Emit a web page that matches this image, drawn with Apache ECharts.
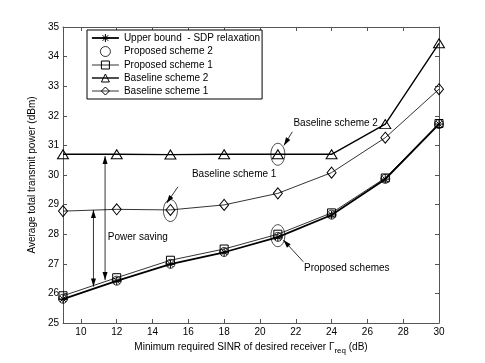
<!DOCTYPE html>
<html>
<head>
<meta charset="utf-8">
<script src="https://cdn.jsdelivr.net/npm/echarts@6/dist/echarts.min.js"></script>
<style>
  html, body { margin: 0; padding: 0; background: #fff; }
  #chart { width: 485px; height: 363px; }
</style>
</head>
<body>
<div id="chart"></div>
<script>
// x values (dB)
const sinr = [9, 12, 15, 18, 21, 24, 27, 30];
const xTicks = [10, 12, 14, 16, 18, 20, 22, 24, 26, 28, 30];

// average total transmit power (dBm)
const upperBound = [25.81, 26.42, 26.99, 27.39, 27.90, 28.65, 29.86, 31.72];
const proposed2 = [25.82, 26.43, 27.00, 27.40, 27.91, 28.66, 29.87, 31.72];
const proposed1 = [25.92, 26.53, 27.12, 27.50, 28.00, 28.72, 29.90, 31.74];
const baseline2 = [30.70, 30.70, 30.69, 30.70, 30.70, 30.70, 31.72, 34.45];
const baseline1 = [28.78, 28.84, 28.82, 28.99, 29.38, 30.08, 31.26, 32.90];

const FONT = 'Liberation Sans, Arial, Helvetica, sans-serif';
const asterisk = 'path://M5,0L5,10M0,5L10,5M1.5,1.5L8.5,8.5M8.5,1.5L1.5,8.5';

function pairs(ys) {
  return sinr.map((x, i) => [x, ys[i]]);
}

function lineSeries(name, ys, symbol, size, width) {
  return {
    name: name,
    type: 'line',
    data: pairs(ys),
    symbol: symbol,
    symbolSize: size,
    showAllSymbol: true,
    lineStyle: { color: '#000', width: width },
    itemStyle: { color: 'transparent', borderColor: '#000', borderWidth: 1 },
    emphasis: { disabled: true },
    animation: false
  };
}

const chart = echarts.init(document.getElementById('chart'));

const axisLine = { show: true, onZero: false, lineStyle: { color: '#555', width: 1 } };

chart.setOption({
  backgroundColor: '#fff',
  textStyle: { fontFamily: FONT },
  grid: { left: 63, right: 46, top: 27, bottom: 40 },
  legend: {
    orient: 'vertical',
    left: 87,
    top: 30,
    padding: [3, 2, 3, 4],
    itemGap: 3,
    itemWidth: 27,
    itemHeight: 10,
    borderColor: '#000',
    borderWidth: 1,
    backgroundColor: '#fff',
    itemStyle: { borderWidth: 1 },
    lineStyle: { width: 'inherit' },
    textStyle: { fontSize: 10, color: '#000', fontFamily: FONT },
    data: ['Upper bound  - SDP relaxation', 'Proposed scheme 2', 'Proposed scheme 1',
           'Baseline scheme 2', 'Baseline scheme 1']
  },
  xAxis: [{
    type: 'value',
    min: 9, max: 30,
    position: 'bottom',
    axisLine: axisLine,
    axisTick: { inside: true, length: 4, customValues: xTicks, lineStyle: { color: '#555' } },
    axisLabel: { customValues: xTicks, fontSize: 10, color: '#000', margin: 4, fontFamily: FONT },
    splitLine: { show: false },
    name: '{a|Minimum required SINR of desired receiver Γ}{s|req}{a| (dB)}',
    nameLocation: 'middle',
    nameGap: 14,
    nameTextStyle: {
      rich: {
        a: { fontSize: 10, color: '#000', fontFamily: FONT },
        s: { fontSize: 8, color: '#000', fontFamily: FONT, padding: [8, 0, 0, 0] }
      }
    }
  }, {
    type: 'value',
    min: 9, max: 30,
    position: 'top',
    axisLine: axisLine,
    axisTick: { inside: true, length: 4, customValues: xTicks, lineStyle: { color: '#555' } },
    axisLabel: { show: false },
    splitLine: { show: false }
  }],
  yAxis: [{
    type: 'value',
    min: 25, max: 35, interval: 1,
    position: 'left',
    axisLine: axisLine,
    axisTick: { inside: true, length: 4, lineStyle: { color: '#555' } },
    axisLabel: { fontSize: 10, color: '#000', margin: 4, fontFamily: FONT },
    splitLine: { show: false },
    name: 'Average total transmit power (dBm)',
    nameLocation: 'middle',
    nameGap: 24,
    nameTextStyle: { fontSize: 10, color: '#000', fontFamily: FONT }
  }, {
    type: 'value',
    min: 25, max: 35, interval: 1,
    position: 'right',
    axisLine: axisLine,
    axisTick: { inside: true, length: 4, lineStyle: { color: '#555' } },
    axisLabel: { show: false },
    splitLine: { show: false }
  }],
  series: [
    lineSeries('Baseline scheme 1', baseline1, 'diamond', [9, 11], 0.8),
    lineSeries('Baseline scheme 2', baseline2, 'triangle', [11, 9], 1.4),
    lineSeries('Proposed scheme 1', proposed1, 'rect', 8, 0.8),
    {
      name: 'Proposed scheme 2',
      type: 'scatter',
      data: pairs(proposed2),
      symbol: 'circle',
      symbolSize: 9,
      itemStyle: { color: 'transparent', borderColor: '#000', borderWidth: 1 },
      emphasis: { disabled: true },
      animation: false
    },
    lineSeries('Upper bound  - SDP relaxation', upperBound, asterisk, 8, 1.8)
  ]
});

// annotations, anchored in data coordinates
const ellipses = [[21, 30.7], [15, 28.8], [21, 27.95]];
const labels = [
  { text: 'Baseline scheme 2', at: [21.87, 31.75] },
  { text: 'Baseline scheme 1', at: [16.2, 30.03] },
  { text: 'Power saving', at: [11.5, 27.9] },
  { text: 'Proposed schemes', at: [22.46, 26.85] }
];
const arrows = [
  { from: [21.81, 31.46], to: [21.34, 31.0], both: false },
  { from: [15.42, 29.6], to: [14.79, 29.05], both: false },
  { from: [22.42, 27.07], to: [21.31, 27.8], both: false },
  { from: [11.35, 26.45], to: [11.35, 30.64], both: true },
  { from: [10.7, 26.23], to: [10.7, 28.82], both: true }
];

function px(p) {
  return chart.convertToPixel({ xAxisIndex: 0, yAxisIndex: 0 }, p);
}

function head(tip, tail) {
  const dx = tip[0] - tail[0], dy = tip[1] - tail[1];
  const len = Math.sqrt(dx * dx + dy * dy);
  const ux = dx / len, uy = dy / len;
  const bx = tip[0] - ux * 8, by = tip[1] - uy * 8;
  return {
    type: 'polygon',
    shape: { points: [tip, [bx - uy * 2.5, by + ux * 2.5], [bx + uy * 2.5, by - ux * 2.5]] },
    style: { fill: '#000' },
    z: 100
  };
}

const graphics = [];
ellipses.forEach(function (e) {
  const c = px(e);
  graphics.push({
    type: 'ellipse',
    shape: { cx: c[0], cy: c[1], rx: 7, ry: 11 },
    style: { fill: 'none', stroke: '#000', lineWidth: 0.7 },
    z: 100
  });
});
labels.forEach(function (l) {
  const p = px(l.at);
  graphics.push({
    type: 'text',
    x: p[0], y: p[1],
    style: { text: l.text, fontSize: 10, fontFamily: FONT, fill: '#000', verticalAlign: 'middle' },
    z: 100
  });
});
arrows.forEach(function (a) {
  const f = px(a.from), t = px(a.to);
  graphics.push({
    type: 'line',
    shape: { x1: f[0], y1: f[1], x2: t[0], y2: t[1] },
    style: { stroke: '#000', lineWidth: 0.8 },
    z: 100
  });
  graphics.push(head(t, f));
  if (a.both) graphics.push(head(f, t));
});
chart.setOption({ graphic: graphics });
</script>
</body>
</html>
